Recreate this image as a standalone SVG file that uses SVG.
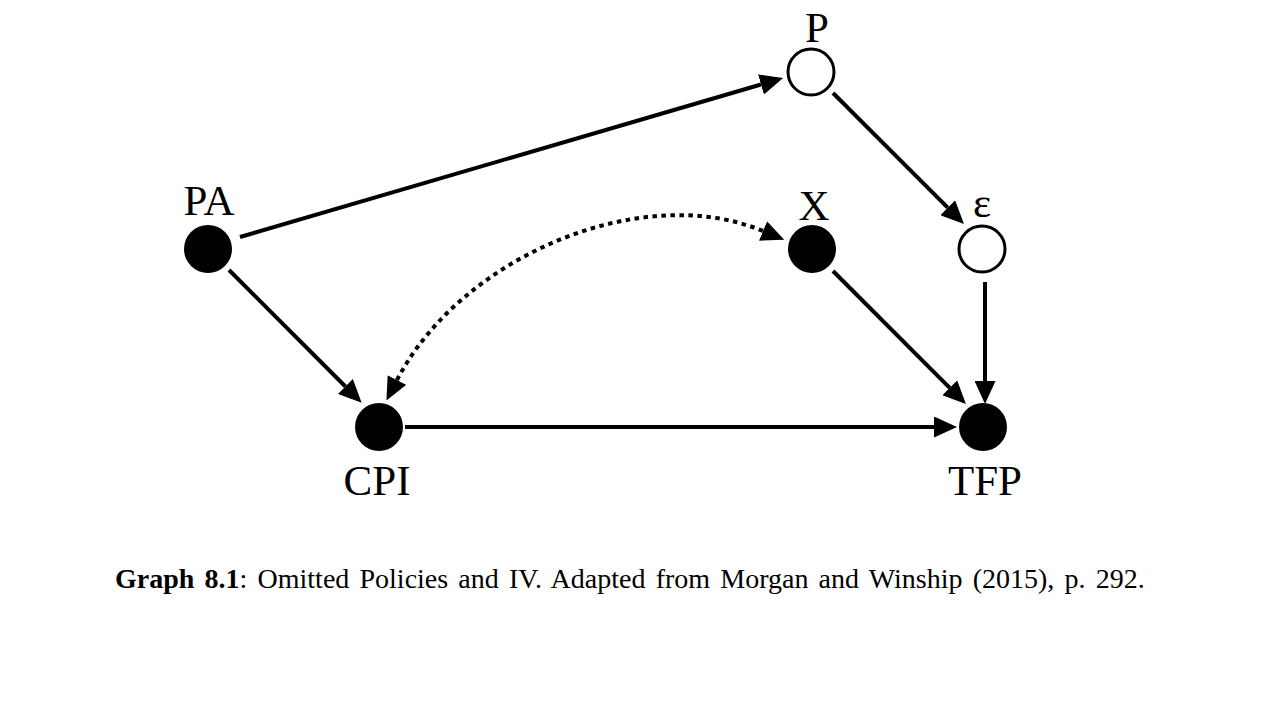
<svg xmlns="http://www.w3.org/2000/svg" width="1280" height="720" viewBox="0 0 1280 720">
  <style>
    .lbl { font-family: "Liberation Serif", "Times New Roman", serif; font-size: 43px; fill: #000; text-anchor: middle; }
    .cap { font-family: "Liberation Serif", "Times New Roman", serif; font-size: 28px; fill: #000; word-spacing: 3.2px; }
    .edge { fill: none; stroke: #000; stroke-width: 4; }
    .dotted { stroke-dasharray: 4.5 4.5; }
    .filled { fill: #000; }
    .open { fill: #fff; stroke: #000; stroke-width: 3; }
  </style>
  <defs>
    <marker id="arrow" viewBox="0 0 23 21" refX="0" refY="10.5" markerWidth="23" markerHeight="21" markerUnits="userSpaceOnUse" orient="auto-start-reverse">
      <path d="M0,0 L23,10.5 L0,21 Z" fill="#000"/>
    </marker>
  </defs>
  <rect width="1280" height="720" fill="#fff"/>
  <g id="connectors">
    <path class="edge" d="M240,237 L761,84.5" marker-end="url(#arrow)"/>
    <path class="edge" d="M833,93 L947.7,207.7" marker-end="url(#arrow)"/>
    <path class="edge" d="M229,270 L345.4,386.5" marker-end="url(#arrow)"/>
    <path class="edge" d="M833,271 L949.7,387.8" marker-end="url(#arrow)"/>
    <path class="edge" d="M985,282 L985,381" marker-end="url(#arrow)"/>
    <path class="edge" d="M405,427 L934,427" marker-end="url(#arrow)"/>
    <path class="edge dotted" d="M397,380 C460,258 640,180 763,231" marker-start="url(#arrow)" marker-end="url(#arrow)"/>
  </g>
  <g id="node-PA">
    <circle class="filled" cx="208" cy="249" r="24"/>
    <text class="lbl" x="209" y="215">PA</text>
  </g>
  <g id="node-CPI">
    <circle class="filled" cx="379" cy="427" r="24"/>
    <text class="lbl" x="377" y="495">CPI</text>
  </g>
  <g id="node-X">
    <circle class="filled" cx="812" cy="249" r="24"/>
    <text class="lbl" x="814" y="220">X</text>
  </g>
  <g id="node-P">
    <circle class="open" cx="811" cy="72" r="23"/>
    <text class="lbl" x="817" y="42">P</text>
  </g>
  <g id="node-eps">
    <circle class="open" cx="982" cy="249" r="23"/>
    <text class="lbl" x="982" y="217">ε</text>
  </g>
  <g id="node-TFP">
    <circle class="filled" cx="983" cy="427" r="24"/>
    <text class="lbl" x="985" y="495">TFP</text>
  </g>
  <text class="cap" x="115" y="588"><tspan font-weight="bold">Graph 8.1</tspan>: Omitted Policies and IV. Adapted from Morgan and Winship (2015), p. 292.</text>
</svg>
